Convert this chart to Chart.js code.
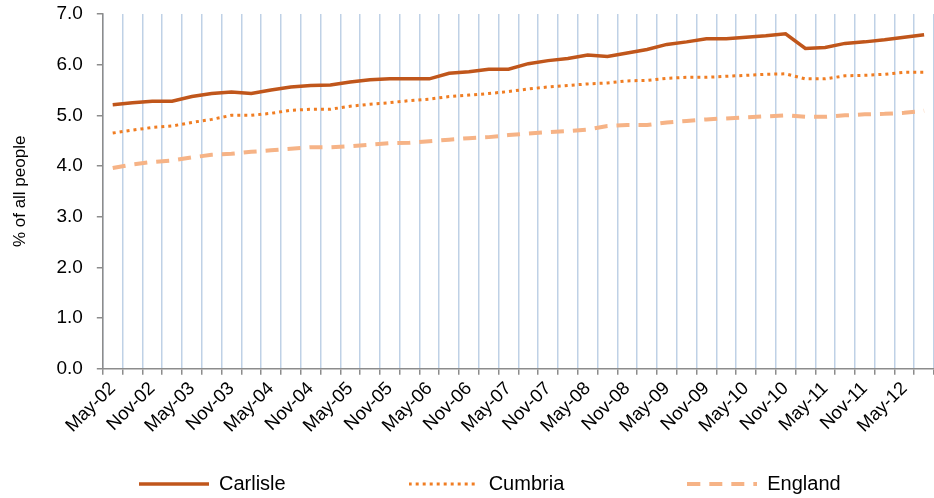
<!DOCTYPE html>
<html>
<head>
<meta charset="utf-8">
<script src="https://cdn.jsdelivr.net/npm/chart.js@4"></script>
<style>
  html, body { margin: 0; padding: 0; background: #fff; overflow: hidden; }
  #wrap { width: 934px; height: 498px; }
</style>
</head>
<body>
<div id="wrap"><canvas id="chartPeople"></canvas></div>
<script>
// --- 1. DATOS (trimestrales, mayo 2002 a agosto 2012) ---
const trimestres = [
  'May-02', 'Aug-02', 'Nov-02', 'Feb-03', 'May-03', 'Aug-03', 'Nov-03', 'Feb-04',
  'May-04', 'Aug-04', 'Nov-04', 'Feb-05', 'May-05', 'Aug-05', 'Nov-05', 'Feb-06',
  'May-06', 'Aug-06', 'Nov-06', 'Feb-07', 'May-07', 'Aug-07', 'Nov-07', 'Feb-08',
  'May-08', 'Aug-08', 'Nov-08', 'Feb-09', 'May-09', 'Aug-09', 'Nov-09', 'Feb-10',
  'May-10', 'Aug-10', 'Nov-10', 'Feb-11', 'May-11', 'Aug-11', 'Nov-11', 'Feb-12',
  'May-12', 'Aug-12'
];

const carlisle = [5.21, 5.25, 5.28, 5.28, 5.37, 5.43, 5.46, 5.43, 5.50, 5.56,
                  5.59, 5.60, 5.66, 5.70, 5.72, 5.72, 5.72, 5.83, 5.86, 5.91,
                  5.91, 6.02, 6.08, 6.12, 6.19, 6.16, 6.23, 6.30, 6.40, 6.45,
                  6.51, 6.51, 6.54, 6.57, 6.61, 6.32, 6.34, 6.42, 6.45, 6.49,
                  6.54, 6.59];

const cumbria = [4.65, 4.71, 4.76, 4.79, 4.86, 4.92, 5.00, 5.00, 5.04, 5.10,
                 5.12, 5.12, 5.18, 5.22, 5.25, 5.29, 5.32, 5.37, 5.40, 5.43,
                 5.47, 5.52, 5.56, 5.59, 5.62, 5.64, 5.68, 5.69, 5.73, 5.75,
                 5.75, 5.77, 5.79, 5.81, 5.82, 5.72, 5.72, 5.78, 5.79, 5.81,
                 5.85, 5.85];

const england = [3.96, 4.03, 4.08, 4.11, 4.17, 4.22, 4.24, 4.28, 4.31, 4.34,
                 4.37, 4.37, 4.39, 4.42, 4.45, 4.46, 4.49, 4.52, 4.55, 4.57,
                 4.61, 4.64, 4.67, 4.69, 4.72, 4.79, 4.81, 4.81, 4.86, 4.89,
                 4.92, 4.94, 4.96, 4.98, 5.00, 4.97, 4.97, 5.00, 5.02, 5.03,
                 5.05, 5.09];

const yMin = 0;
const yMax = 7;
const yPaso = 1;

// --- 2. ESTILO ---
const FUENTE = "'Liberation Sans', Arial, sans-serif";
const GRIS_EJE = '#8c8c8c';
const AZUL_GRILLA = '#bfd1e6';
const LEGEND_GAP = 123;
const MUESTRA_ANCHO = 70;

const estilos = {
  carlisle: { color: '#c0561b', ancho: 3.5, dash: [] },
  cumbria:  { color: '#f07d22', ancho: 3, dash: [3, 4] },
  england:  { color: '#f6b386', ancho: 4, dash: [13, 9] }
};

// Muestra de línea para la leyenda (Chart.js no pinta el dash con pointStyle)
function muestraLinea(est) {
  const c = document.createElement('canvas');
  c.width = MUESTRA_ANCHO;
  c.height = 8;
  const ctx = c.getContext('2d');
  ctx.strokeStyle = est.color;
  ctx.lineWidth = est.ancho;
  ctx.setLineDash(est.dash);
  ctx.beginPath();
  ctx.moveTo(0, 4);
  ctx.lineTo(MUESTRA_ANCHO, 4);
  ctx.stroke();
  return c;
}

function serie(label, data, est) {
  return {
    label, data,
    borderColor: est.color, backgroundColor: est.color,
    borderWidth: est.ancho, borderDash: est.dash,
    pointRadius: 0, pointHoverRadius: 0, tension: 0,
    pointStyle: muestraLinea(est)
  };
}

// Ajuste de la leyenda: separación horizontal grande sin ocupar alto extra
const legendaAjuste = {
  id: 'legendaAjuste',
  afterUpdate(chart) {
    const lg = chart.legend;
    if (!lg) return;
    lg.left = 139 - LEGEND_GAP;
    lg.right = lg.left + 3000;
    lg.top = lg.bottom - LEGEND_GAP - 24;
  }
};

// --- 3. GRÁFICO ---
new Chart(document.getElementById('chartPeople').getContext('2d'), {
  type: 'line',
  data: {
    labels: trimestres,
    datasets: [
      serie('Carlisle', carlisle, estilos.carlisle),
      serie('Cumbria', cumbria, estilos.cumbria),
      serie('England', england, estilos.england)
    ]
  },
  options: {
    responsive: true,
    maintainAspectRatio: false,
    animation: false,
    layout: { padding: { top: 14, left: 6, right: -3, bottom: 0 } },
    plugins: {
      tooltip: { enabled: false },
      legend: {
        position: 'bottom',
        align: 'start',
        maxHeight: 58,
        labels: {
          usePointStyle: true,
          pointStyleWidth: MUESTRA_ANCHO,
          padding: LEGEND_GAP,
          color: '#000',
          font: { family: FUENTE, size: 20 }
        }
      }
    },
    scales: {
      x: {
        offset: true,
        afterFit: s => { s.paddingRight = -3; },
        grid: {
          offset: true,
          color: AZUL_GRILLA,
          lineWidth: 1.5,
          tickColor: GRIS_EJE,
          tickLength: 6,
          tickWidth: 1.5
        },
        border: { color: GRIS_EJE, width: 1.5 },
        ticks: {
          autoSkip: false,
          minRotation: 45,
          maxRotation: 45,
          color: '#000',
          font: { family: FUENTE, size: 18.5 },
          callback: (v, i) => (i % 2 === 0 ? trimestres[i] : '')
        }
      },
      y: {
        min: yMin,
        max: yMax,
        afterFit: s => { s.paddingTop = 0; s.paddingBottom = 0; },
        grid: {
          drawOnChartArea: false,
          color: GRIS_EJE,
          tickLength: 6,
          lineWidth: 1.5
        },
        border: { color: GRIS_EJE, width: 1.5 },
        ticks: {
          stepSize: yPaso,
          padding: 14,
          color: '#000',
          font: { family: FUENTE, size: 19 },
          callback: v => v.toFixed(1)
        },
        title: {
          display: true,
          text: '% of all people',
          color: '#000',
          font: { family: FUENTE, size: 17 },
          padding: { top: 4, bottom: 12 }
        }
      }
    }
  },
  plugins: [legendaAjuste]
});
</script>
</body>
</html>
